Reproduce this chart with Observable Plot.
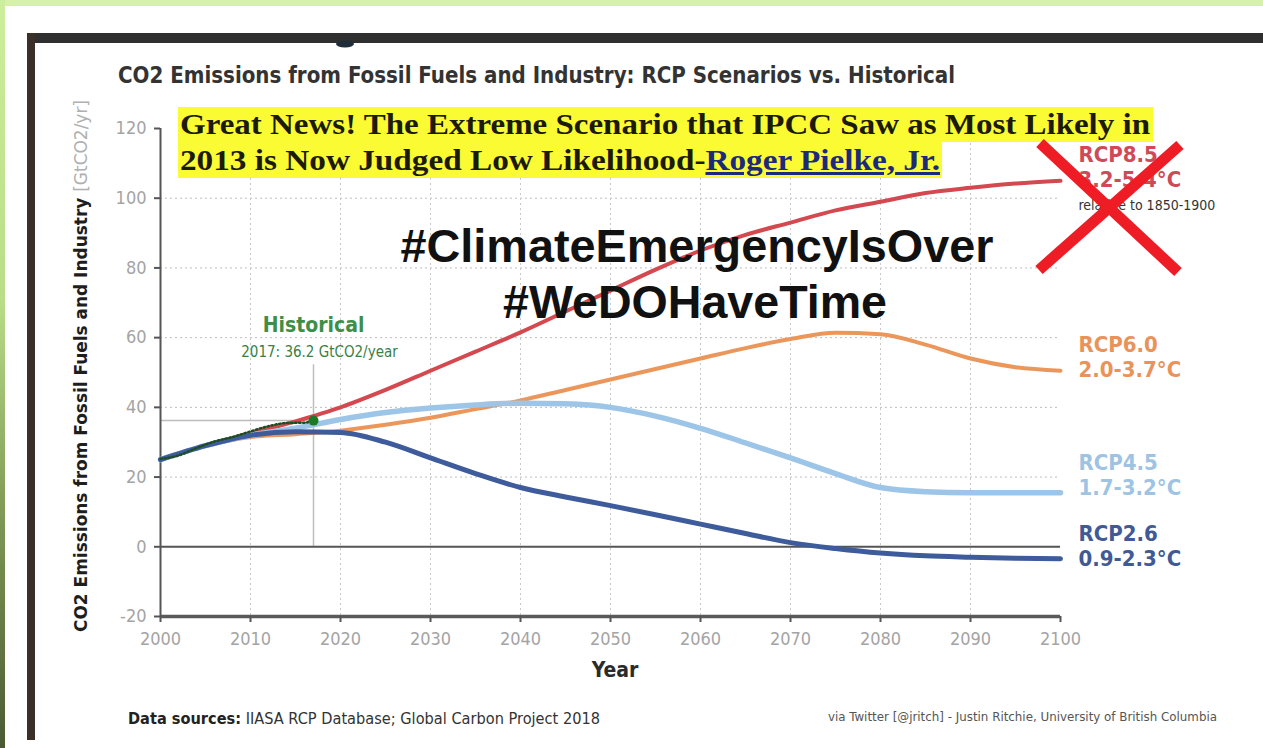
<!DOCTYPE html>
<html>
<head>
<meta charset="utf-8">
<script src="https://cdn.jsdelivr.net/npm/d3@7"></script>
<script src="https://cdn.jsdelivr.net/npm/@observablehq/plot@0.6"></script>
<style>
  html, body { margin: 0; padding: 0; background: #fff; }
  #page { position: relative; width: 1263px; height: 748px; overflow: hidden; background: #fff; }
  .abs { position: absolute; }
  #topstrip { left: 0; top: 0; width: 1263px; height: 6px; background: #d6f2aa; }
  #leftstrip { left: 0; top: 0; width: 5px; height: 748px; background: linear-gradient(#cdee9c 0%, #b9dd88 40%, #7d9654 70%, #4b5a32 100%); }
  #frametop { left: 27px; top: 33px; width: 1236px; height: 10px; background: #2f2f2f; }
  #frameleft { left: 27px; top: 33px; width: 8px; height: 707px; background: #3b3027; }
  #chart { left: 0; top: 0; width: 1263px; height: 748px; }
  #chart svg { max-width: none !important; display: block; }
</style>
</head>
<body>
<div id="page">
  <div class="abs" id="topstrip"></div>
  <div class="abs" id="leftstrip"></div>
  <div class="abs" id="frametop"></div>
  <div class="abs" id="frameleft"></div>
  <div class="abs" id="chart"></div>
</div>
<script>
// ---- data ----
const years = [2000, 2005, 2010, 2015, 2020, 2025, 2030, 2035, 2040, 2045, 2050, 2055, 2060, 2065, 2070, 2075, 2080, 2085, 2090, 2095, 2100];
const rcp85 = [25, 29, 32.5, 36, 40, 45, 50.5, 56, 61.5, 67.5, 73.5, 79.5, 85, 89.5, 93, 96.5, 99, 101.5, 103, 104.2, 105];
const rcp60 = [25, 29, 31.5, 32.3, 33.3, 35, 37, 39.5, 42, 45, 48, 51, 54, 57, 59.6, 61.4, 61, 58, 54, 51.5, 50.5];
const rcp45 = [25, 29, 32, 34, 36.5, 38.5, 39.8, 40.7, 41.2, 41, 40, 37.5, 34, 29.8, 25.5, 21, 17, 15.8, 15.5, 15.5, 15.5];
const rcp26 = [25, 29, 32, 33, 32.8, 30, 25.5, 21, 17, 14.3, 11.8, 9.2, 6.5, 3.8, 1.2, -0.5, -1.8, -2.6, -3, -3.3, -3.4];
const histYears = [2000, 2002, 2004, 2006, 2008, 2010, 2012, 2014, 2016, 2017];
const histValues = [25.2, 26.2, 28.3, 30.2, 31.5, 33.1, 34.6, 35.5, 35.6, 36.2];
const scenarioNames = ["RCP8.5", "RCP6.0", "RCP4.5", "RCP2.6"];
const scenarioRanges = ["3.2-5.4°C", "2.0-3.7°C", "1.7-3.2°C", "0.9-2.3°C"];
const scenarioColors = ["#d4484f", "#eb975c", "#9dc5e8", "#3e5b9b"];
const labelColors = ["#cf4a57", "#e9935a", "#9ec3e3", "#3f5a95"];
const xTicks = [2000, 2010, 2020, 2030, 2040, 2050, 2060, 2070, 2080, 2090, 2100];
const yTicks = [-20, 0, 20, 40, 60, 80, 100, 120];
const histLabel = "Historical";
const histNote = "2017: 36.2 GtCO2/year";
const relNote = "relative to 1850-1900";

const seriesValues = [rcp85, rcp60, rcp45, rcp26];
const widths = [4, 4, 5.5, 5];
const labelShift = [6, 6, 2, 7];
const lastYear = years[years.length - 1];
const histEndYear = histYears[histYears.length - 1];
const histEnd = histValues[histValues.length - 1];

const cond = "'DejaVu Sans Condensed', 'DejaVu Sans', sans-serif";

const lineMarks = [];
seriesValues.forEach((vals, i) => {
  const rows = years.map((y, j) => ({year: y, value: vals[j]}));
  lineMarks.push(Plot.line(rows, {x: "year", y: "value", stroke: scenarioColors[i], strokeWidth: widths[i], curve: "monotone-x", strokeLinecap: "round"}));
});

const labelRows = scenarioNames.map((n, i) => ({name: n, range: scenarioRanges[i], year: lastYear, value: seriesValues[i][seriesValues[i].length - 1], color: labelColors[i]}));
const labelMarks = labelRows.map((d, i) => Plot.text([d], {x: "year", y: "value", text: r => r.name + "\n" + r.range, dx: 18, dy: labelShift[i], textAnchor: "start", lineAnchor: "bottom", lineHeight: 1.12, fontSize: 22, fill: "color", fontWeight: "bold"}));
const histRows = histYears.map((y, j) => ({year: y, value: histValues[j]}));

const chart = Plot.plot({
  width: 1263,
  height: 748,
  marginLeft: 160,
  marginRight: 203,
  marginTop: 128,
  marginBottom: 132,
  x: {domain: [2000, 2100]},
  y: {domain: [-20, 120]},
  style: {fontFamily: cond, fontStretch: "condensed", background: "transparent", overflow: "visible", maxWidth: "none"},
  marks: [
    Plot.gridY({ticks: [20, 40, 60, 80, 100], stroke: "#bdbdbd", strokeOpacity: 1, strokeDasharray: "2,3"}),
    Plot.gridX({ticks: xTicks.slice(1, -1), stroke: "#c8c8c8", strokeOpacity: 1, strokeDasharray: "2,3"}),
    Plot.ruleY([histEnd], {x1: 2000, x2: histEndYear, stroke: "#bdbdbd", strokeWidth: 1.5}),
    Plot.ruleX([histEndYear], {y1: 0, y2: histEnd + 16, stroke: "#bdbdbd", strokeWidth: 1.5}),
    Plot.ruleY([0], {stroke: "#555", strokeWidth: 2}),
    Plot.ruleY([-20], {stroke: "#5a5a5a", strokeWidth: 3.5}),
    Plot.ruleX([2000], {stroke: "#555", strokeWidth: 2}),
    Plot.axisX({ticks: xTicks, tickSize: 6, tickPadding: 10, tickFormat: d => String(d), stroke: "#555", strokeWidth: 2, fill: "#a4a4a4", fontSize: 18, label: null}),
    Plot.axisY({ticks: yTicks, tickSize: 6, tickPadding: 8, tickFormat: d => String(d), stroke: "#555", strokeWidth: 2, fill: "#a4a4a4", fontSize: 18, label: null}),
    ...lineMarks,
    Plot.line(histRows, {x: "year", y: "value", stroke: "#1f4d22", strokeWidth: 2.5, strokeDasharray: "1.5,2.5", curve: "monotone-x"}),
    Plot.dot([histRows[histRows.length - 1]], {x: "year", y: "value", r: 5, fill: "#1c7a26"}),
    Plot.text([histRows[histRows.length - 1]], {x: "year", y: "value", text: () => histLabel, dy: -95, fontSize: 21, fill: "#3d8f47", fontWeight: "bold"}),
    Plot.text([histRows[histRows.length - 1]], {x: "year", y: "value", text: () => histNote, dx: 6, dy: -68, fontSize: 15, fill: "#3b7f44"}),
    ...labelMarks,
    Plot.text([labelRows[0]], {x: "year", y: "value", text: () => relNote, dx: 18, dy: 25, textAnchor: "start", fontSize: 14, fill: "#333"})
  ]
});
chart.setAttribute("width", 1263);
chart.setAttribute("height", 748);
chart.style.maxWidth = "none";
chart.style.width = "1263px";
chart.style.height = "748px";
document.getElementById("chart").appendChild(chart);

// ---- overlay: titles, meme annotations, footer ----
const NS = "http://www.w3.org/2000/svg";
const ov = document.createElementNS(NS, "svg");
ov.setAttribute("width", 1263);
ov.setAttribute("height", 748);
ov.setAttribute("id", "overlay");
ov.style.position = "absolute";
ov.style.left = "0px";
ov.style.top = "0px";
document.getElementById("page").appendChild(ov);

function el(tag, attrs, parent) {
  const e = document.createElementNS(NS, tag);
  for (const k in attrs) e.setAttribute(k, attrs[k]);
  (parent || ov).appendChild(e);
  return e;
}
function txt(str, attrs, parent) {
  const t = el("text", attrs, parent);
  t.textContent = str;
  return t;
}

// small dark blob under frame
el("ellipse", {cx: 345, cy: 44, rx: 9, ry: 3.5, fill: "#1f2d3b"});

// title
txt("CO2 Emissions from Fossil Fuels and Industry: RCP Scenarios vs. Historical",
  {x: 118, y: 83, "font-family": cond, "font-size": 23, "font-weight": "bold", fill: "#333", textLength: 837, lengthAdjust: "spacingAndGlyphs"});

// y axis title
const yt = el("text", {transform: "translate(87,632) rotate(-90)", "font-family": cond, "font-size": 18, textLength: 532, lengthAdjust: "spacingAndGlyphs"});
const ys1 = el("tspan", {fill: "#1e1e1e", "font-weight": "bold"}, yt); ys1.textContent = "CO2 Emissions from Fossil Fuels and Industry ";
const ys2 = el("tspan", {fill: "#b0b0b0"}, yt); ys2.textContent = "[GtCO2/yr]";

// x axis title
txt("Year", {x: 615, y: 677, "text-anchor": "middle", "font-family": cond, "font-size": 21, "font-weight": "bold", fill: "#2a2a2a"});

// highlighted subtitle
el("rect", {x: 178, y: 107, width: 975, height: 35, fill: "#fbfb33"});
el("rect", {x: 178, y: 141, width: 764, height: 37, fill: "#fbfb33"});
const serif = "'Liberation Serif', 'DejaVu Serif', serif";
txt("Great News! The Extreme Scenario that IPCC Saw as Most Likely in",
  {x: 180, y: 134, "font-family": serif, "font-size": 30, "font-weight": "bold", fill: "#1c1a08", textLength: 970, lengthAdjust: "spacingAndGlyphs"});
const l2 = el("text", {x: 180, y: 170, "font-family": serif, "font-size": 30, "font-weight": "bold", fill: "#1c1a08", textLength: 760, lengthAdjust: "spacingAndGlyphs"});
const l2a = el("tspan", {}, l2); l2a.textContent = "2013 is Now Judged Low Likelihood-";
const l2b = el("tspan", {fill: "#1b2a7a", "text-decoration": "underline"}, l2); l2b.textContent = "Roger Pielke, Jr.";

// hashtags
const sans = "'Liberation Sans', Arial, sans-serif";
txt("#ClimateEmergencyIsOver", {x: 697, y: 262, "text-anchor": "middle", "font-family": sans, "font-size": 46, "font-weight": "bold", fill: "#111", textLength: 593, lengthAdjust: "spacingAndGlyphs"});
txt("#WeDOHaveTime", {x: 695, y: 318, "text-anchor": "middle", "font-family": sans, "font-size": 46, "font-weight": "bold", fill: "#111", textLength: 384, lengthAdjust: "spacingAndGlyphs"});

// red X over RCP8.5
el("line", {x1: 1040, y1: 143, x2: 1178, y2: 272, stroke: "#ee1c24", "stroke-width": 11});
el("line", {x1: 1180, y1: 145, x2: 1039, y2: 270, stroke: "#ee1c24", "stroke-width": 11});

// footer
const f1 = el("text", {x: 128, y: 724, "font-family": cond, "font-size": 15, fill: "#333", textLength: 472, lengthAdjust: "spacingAndGlyphs"});
const f1a = el("tspan", {"font-weight": "bold", fill: "#222"}, f1); f1a.textContent = "Data sources:";
const f1b = el("tspan", {}, f1); f1b.textContent = " IIASA RCP Database; Global Carbon Project 2018";
txt("via Twitter [@jritch] - Justin Ritchie, University of British Columbia",
  {x: 828, y: 721, "font-family": cond, "font-size": 12, fill: "#555", textLength: 389, lengthAdjust: "spacingAndGlyphs"});
</script>
</body>
</html>
